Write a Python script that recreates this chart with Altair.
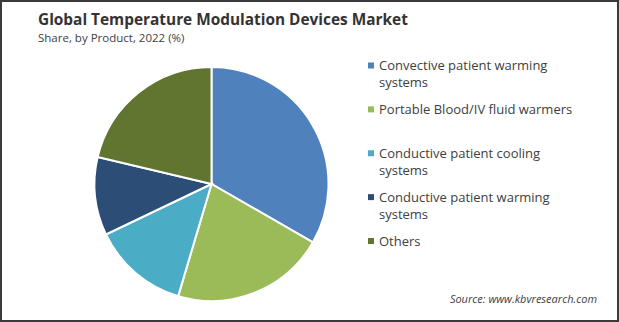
import altair as alt
import pandas as pd

categories = [
    "Convective patient warming systems",
    "Portable Blood/IV fluid warmers",
    "Conductive patient cooling systems",
    "Conductive patient warming systems",
    "Others",
]
shares = [33.3, 21.3, 13.3, 10.8, 21.3]
colors = ["#4F81BD", "#9BBB59", "#4BACC6", "#2C4D75", "#5F7530"]

title_text = "Global Temperature Modulation Devices Market"
subtitle_text = "Share, by Product, 2022 (%)"
source_text = "Source: www.kbvresearch.com"

df = pd.DataFrame({"category": categories, "share": shares, "order": list(range(len(categories)))})

color_enc = alt.Color("category:N", scale=alt.Scale(domain=categories, range=colors), legend=None)
legend_y = alt.Y(
    "category:N",
    axis=None,
    scale=alt.Scale(type="point", domain=categories, range=[65.5, 241], padding=0),
)

pie = alt.Chart(df).mark_arc(radius=117, stroke="white", strokeWidth=2).encode(
    theta=alt.Theta("share:Q", stack=True),
    order=alt.Order("order:Q"),
    color=color_enc,
    x=alt.value(211.5),
    y=alt.value(184),
)

legend_squares = alt.Chart(df).mark_square(size=36, opacity=1).encode(
    x=alt.value(371),
    y=legend_y,
    color=color_enc,
)

legend_labels = alt.Chart(df).transform_calculate(
    label="replace(datum.category, ' systems', '\\nsystems')"
).mark_text(
    align="left",
    baseline="alphabetic",
    dy=4.5,
    lineBreak="\n",
    lineHeight=17,
    font="Open Sans",
    fontSize=13,
    color="#404040",
).encode(
    x=alt.value(379),
    y=legend_y,
    text="label:N",
)

title = alt.Chart(pd.DataFrame({"t": [title_text]})).mark_text(
    align="left", baseline="middle", font="Open Sans", fontSize=15.4, fontWeight="bold", color="#333333"
).encode(text="t:N", x=alt.value(38), y=alt.value(20))

subtitle = alt.Chart(pd.DataFrame({"t": [subtitle_text]})).mark_text(
    align="left", baseline="middle", font="Open Sans", fontSize=11.5, color="#404040"
).encode(text="t:N", x=alt.value(38), y=alt.value(39))

source = alt.Chart(pd.DataFrame({"t": [source_text]})).mark_text(
    align="right", baseline="middle", font="Open Sans", fontSize=11, fontStyle="italic", color="#404040"
).encode(text="t:N", x=alt.value(597), y=alt.value(300))

chart = alt.layer(pie, legend_squares, legend_labels, title, subtitle, source).properties(
    width=619,
    height=322,
    autosize=alt.AutoSizeParams(type="none"),
    padding=0,
).configure_view(stroke="#3a3a3a", strokeWidth=4)

chart.save("out.html", embed_options={"renderer": "svg", "actions": False})
